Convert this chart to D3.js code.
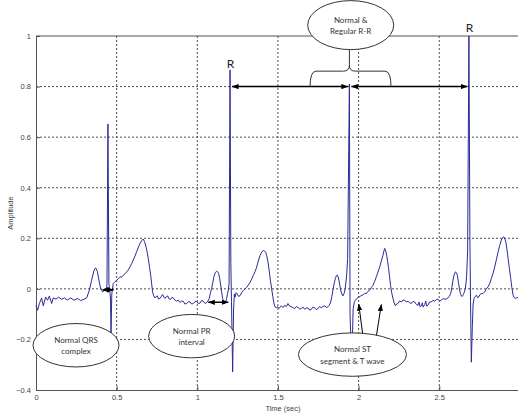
<!DOCTYPE html>
<html>
<head>
<meta charset="utf-8">
<script src="https://cdn.jsdelivr.net/npm/d3@7"></script>
<style>
  body { margin: 0; background: #fff; overflow: hidden; }
  svg { display: block; }
  .tick-label { font-family: "Liberation Sans", Arial, sans-serif; font-size: 7.5px; fill: #444; }
  .note { font-family: Lato, "Open Sans", sans-serif; font-size: 8px; fill: #333; }
</style>
</head>
<body>
<div id="chart"></div>
<script>
// ECG trace: [time (s), amplitude]
const ecgSignal = [
  [0.000,-0.065],[0.010,-0.085],[0.021,-0.058],[0.035,-0.036],[0.045,-0.067],[0.060,-0.032],[0.072,-0.045],
  [0.083,-0.028],[0.097,-0.058],[0.107,-0.036],[0.124,-0.041],[0.140,-0.033],[0.159,-0.041],[0.176,-0.036],
  [0.194,-0.044],[0.215,-0.036],[0.236,-0.045],[0.256,-0.038],[0.277,-0.046],[0.298,-0.041],[0.314,-0.036],
  [0.331,-0.005],[0.345,0.034],[0.360,0.074],[0.370,0.083],[0.380,0.070],[0.390,0.034],[0.401,0.001],
  [0.413,-0.012],[0.426,-0.005],[0.434,-0.009],[0.440,0.015],[0.446,0.652],[0.452,0.020],[0.458,-0.010],
  [0.462,-0.040],[0.465,-0.177],[0.470,-0.020],[0.479,0.021],[0.490,0.028],[0.500,0.034],[0.510,0.040],
  [0.521,0.048],[0.531,0.046],[0.541,0.054],[0.552,0.060],[0.562,0.067],[0.572,0.075],[0.583,0.087],
  [0.593,0.100],[0.603,0.114],[0.614,0.130],[0.624,0.147],[0.635,0.165],[0.645,0.180],[0.655,0.190],
  [0.665,0.197],[0.672,0.188],[0.680,0.173],[0.688,0.148],[0.696,0.120],[0.704,0.085],[0.711,0.054],
  [0.717,0.020],[0.723,-0.012],[0.730,-0.028],[0.738,-0.036],[0.745,-0.030],[0.752,-0.028],[0.760,-0.040],
  [0.769,-0.038],[0.777,-0.030],[0.785,-0.022],[0.792,-0.032],[0.800,-0.038],[0.808,-0.030],[0.816,-0.028],
  [0.825,-0.040],[0.835,-0.041],[0.843,-0.034],[0.851,-0.036],[0.862,-0.045],[0.872,-0.049],[0.882,-0.044],
  [0.893,-0.054],[0.903,-0.048],[0.913,-0.049],[0.923,-0.060],[0.934,-0.058],[0.945,-0.050],[0.955,-0.052],
  [0.965,-0.060],[0.975,-0.058],[0.986,-0.050],[0.996,-0.049],[1.006,-0.058],[1.017,-0.056],[1.027,-0.046],
  [1.037,-0.049],[1.048,-0.058],[1.058,-0.054],[1.066,-0.048],[1.074,-0.038],[1.082,-0.015],[1.089,0.001],
  [1.096,0.025],[1.103,0.048],[1.112,0.065],[1.120,0.070],[1.126,0.068],[1.132,0.061],[1.139,0.040],
  [1.145,0.015],[1.151,-0.012],[1.157,-0.038],[1.164,-0.052],[1.170,-0.058],[1.176,-0.050],[1.182,-0.038],
  [1.187,-0.020],[1.192,-0.005],[1.197,0.020],[1.203,0.866],[1.208,0.100],[1.212,-0.050],[1.219,-0.329],
  [1.225,-0.080],[1.230,-0.020],[1.234,-0.033],[1.241,-0.015],[1.248,-0.020],[1.256,-0.030],[1.265,-0.027],
  [1.275,-0.015],[1.285,-0.007],[1.296,0.000],[1.306,0.006],[1.316,0.015],[1.327,0.026],[1.337,0.038],
  [1.347,0.053],[1.358,0.068],[1.368,0.086],[1.378,0.110],[1.389,0.132],[1.399,0.145],[1.409,0.152],
  [1.418,0.149],[1.424,0.145],[1.430,0.132],[1.438,0.107],[1.447,0.066],[1.453,0.034],[1.461,0.000],
  [1.468,-0.030],[1.476,-0.060],[1.483,-0.072],[1.490,-0.075],[1.497,-0.070],[1.505,-0.078],[1.513,-0.072],
  [1.521,-0.067],[1.531,-0.074],[1.542,-0.065],[1.552,-0.070],[1.562,-0.058],[1.572,-0.068],[1.583,-0.071],
  [1.593,-0.074],[1.604,-0.078],[1.614,-0.070],[1.624,-0.073],[1.635,-0.080],[1.645,-0.078],[1.655,-0.072],
  [1.666,-0.081],[1.676,-0.076],[1.686,-0.075],[1.697,-0.084],[1.707,-0.081],[1.717,-0.072],[1.728,-0.075],
  [1.738,-0.082],[1.748,-0.078],[1.758,-0.070],[1.769,-0.075],[1.779,-0.070],[1.790,-0.067],[1.800,-0.074],
  [1.810,-0.071],[1.818,-0.065],[1.827,-0.052],[1.834,-0.030],[1.841,-0.005],[1.848,0.020],[1.856,0.041],
  [1.862,0.052],[1.868,0.054],[1.873,0.048],[1.878,0.034],[1.884,0.012],[1.889,-0.005],[1.896,-0.020],
  [1.903,-0.028],[1.910,-0.018],[1.917,0.001],[1.922,0.030],[1.926,0.054],[1.932,0.120],[1.943,0.810],
  [1.947,-0.100],[1.957,-0.320],[1.966,-0.080],[1.974,-0.050],[1.980,-0.045],[1.986,-0.040],[1.992,-0.038],
  [2.000,-0.030],[2.007,-0.032],[2.017,-0.025],[2.027,-0.025],[2.038,-0.018],[2.048,-0.019],[2.058,-0.010],
  [2.069,-0.005],[2.079,0.005],[2.089,0.014],[2.100,0.030],[2.110,0.048],[2.120,0.066],[2.131,0.087],
  [2.141,0.110],[2.151,0.133],[2.157,0.150],[2.162,0.160],[2.168,0.150],[2.174,0.133],[2.180,0.108],
  [2.186,0.081],[2.192,0.048],[2.198,0.014],[2.205,-0.015],[2.213,-0.038],[2.220,-0.055],[2.228,-0.067],
  [2.236,-0.060],[2.244,-0.058],[2.254,-0.048],[2.265,-0.052],[2.275,-0.044],[2.286,-0.045],[2.296,-0.052],
  [2.306,-0.049],[2.317,-0.055],[2.327,-0.058],[2.337,-0.050],[2.348,-0.052],[2.358,-0.062],[2.368,-0.065],
  [2.375,-0.052],[2.380,-0.070],[2.389,-0.067],[2.395,-0.055],[2.400,-0.072],[2.410,-0.062],[2.416,-0.048],
  [2.421,-0.068],[2.430,-0.065],[2.440,-0.052],[2.451,-0.052],[2.461,-0.045],[2.472,-0.049],[2.482,-0.042],
  [2.492,-0.041],[2.503,-0.048],[2.513,-0.045],[2.523,-0.038],[2.534,-0.041],[2.544,-0.040],[2.554,-0.036],
  [2.562,-0.030],[2.571,-0.019],[2.578,0.005],[2.585,0.034],[2.592,0.055],[2.600,0.067],[2.606,0.064],
  [2.612,0.054],[2.618,0.030],[2.625,0.001],[2.631,-0.018],[2.637,-0.028],[2.643,-0.030],[2.649,-0.023],
  [2.656,-0.012],[2.662,0.001],[2.667,0.030],[2.670,0.054],[2.676,0.150],[2.684,1.000],[2.690,0.200],
  [2.694,-0.050],[2.699,-0.290],[2.705,-0.150],[2.710,-0.060],[2.716,-0.038],[2.724,-0.030],[2.731,-0.025],
  [2.738,-0.035],[2.745,-0.032],[2.753,-0.022],[2.761,-0.019],[2.771,-0.018],[2.782,-0.012],[2.792,0.000],
  [2.803,0.008],[2.813,0.022],[2.823,0.041],[2.834,0.062],[2.844,0.087],[2.854,0.115],[2.865,0.147],
  [2.875,0.172],[2.885,0.193],[2.893,0.203],[2.900,0.206],[2.907,0.198],[2.913,0.185],[2.920,0.155],
  [2.927,0.119],[2.935,0.080],[2.943,0.041],[2.950,0.005],[2.958,-0.025],[2.965,-0.035],[2.973,-0.038],
  [2.982,-0.034],[2.990,-0.036],[3.000,-0.035]
];

const xTicks = [0, 0.5, 1, 1.5, 2, 2.5, 3];
const yTicks = [-0.4, -0.2, 0, 0.2, 0.4, 0.6, 0.8, 1];

// R peaks that get a label / R-R arrows
const rLabelTimes = [1.203, 2.684];
const rrPeaks = [1.203, 1.943, 2.684];
const rrLevel = 0.8;

// callout bubbles (centre in data units)
const bubbles = [
  {lines: ["Normal &", "Regular R-R"], t: 1.951, a: 1.043, rx: 43, ry: 24.5},
  {lines: ["Normal QRS", "complex"], t: 0.248, a: -0.223, rx: 43, ry: 21.7},
  {lines: ["Normal PR", "interval"], t: 0.965, a: -0.187, rx: 43, ry: 21.7},
  {lines: ["Normal ST", "segment & T wave"], t: 1.962, a: -0.26, rx: 54, ry: 21.7}
];

// small interval arrows
const spanArrows = [
  {t0: 0.413, t1: 0.480, a: -0.004},   // QRS
  {t0: 1.068, t1: 1.192, a: -0.053}    // PR
];
const pointerArrows = [
  {t0: 2.027, a0: -0.187, t1: 2.001, a1: -0.060},
  {t0: 2.110, a0: -0.187, t1: 2.141, a1: -0.062}
];

const W = 518, H = 418;
const margin = {top: 36, left: 36, bottom: 28};

const svg = d3.select("#chart").append("svg")
  .attr("width", W)
  .attr("height", H);

const x = d3.scaleLinear().domain([0, 3]).range([margin.left, margin.left + 3 * 161.3]);
const y = d3.scaleLinear().domain([-0.4, 1]).range([H - margin.bottom, margin.top]);

const defs = svg.append("defs");
defs.append("marker")
  .attr("id", "head")
  .attr("viewBox", "0 0 8 6")
  .attr("refX", 7.5).attr("refY", 3)
  .attr("markerWidth", 7).attr("markerHeight", 5.5)
  .attr("markerUnits", "userSpaceOnUse")
  .attr("orient", "auto-start-reverse")
  .append("path")
  .attr("d", "M0,0 L8,3 L0,6 Z")
  .attr("fill", "#000");

//grid (dotted, like matlab)
svg.append("g").selectAll("line.vg")
  .data(xTicks.filter(d => d > 0))
  .join("line")
  .attr("x1", d => x(d)).attr("x2", d => x(d))
  .attr("y1", y(1)).attr("y2", y(-0.4))
  .attr("stroke", "#222").attr("stroke-width", 0.8)
  .attr("stroke-dasharray", "2,2");

svg.append("g").selectAll("line.hg")
  .data(yTicks.filter(d => d > -0.4 && d < 1))
  .join("line")
  .attr("x1", x(0)).attr("x2", W)
  .attr("y1", d => y(d)).attr("y2", d => y(d))
  .attr("stroke", "#222").attr("stroke-width", 0.8)
  .attr("stroke-dasharray", "2,2");

//axes
const xAxis = svg.append("g")
  .attr("transform", "translate(0," + y(-0.4) + ")")
  .call(d3.axisBottom(x).tickValues(xTicks).tickSize(-4).tickPadding(5).tickFormat(d3.format("")));
const yAxis = svg.append("g")
  .attr("transform", "translate(" + x(0) + ",0)")
  .call(d3.axisLeft(y).tickValues(yTicks).tickSize(-4).tickPadding(5).tickFormat(d3.format("")));
[xAxis, yAxis].forEach(g => {
  g.select(".domain").attr("stroke", "#555").attr("stroke-width", 1);
  g.selectAll(".tick line").attr("stroke", "#555");
  g.selectAll(".tick text").attr("class", "tick-label").attr("font-size", null).attr("font-family", null);
});

//top frame line
svg.append("line")
  .attr("x1", x(0)).attr("x2", W)
  .attr("y1", y(1)).attr("y2", y(1))
  .attr("stroke", "#555");

//axis titles
svg.append("text")
  .attr("class", "tick-label")
  .attr("transform", "translate(13," + y(0.3) + ") rotate(-90)")
  .attr("text-anchor", "middle")
  .text("Amplitude");
svg.append("text")
  .attr("class", "tick-label")
  .attr("x", x(1.5) + 5).attr("y", 411)
  .attr("text-anchor", "middle")
  .text("Time (sec)");

//ECG line
const line = d3.line().x(d => x(d[0])).y(d => y(d[1]));
svg.append("path")
  .datum(ecgSignal)
  .attr("d", line)
  .attr("fill", "none")
  .attr("stroke", "#2a2a96")
  .attr("stroke-width", 1)
  .attr("stroke-linejoin", "round");

//R-R arrows
for (let i = 0; i < rrPeaks.length - 1; i++) {
  svg.append("line")
    .attr("x1", x(rrPeaks[i]) + 2).attr("x2", x(rrPeaks[i + 1]) - 1.5)
    .attr("y1", y(rrLevel)).attr("y2", y(rrLevel))
    .attr("stroke", "#000").attr("stroke-width", 1.5)
    .attr("marker-start", "url(#head)")
    .attr("marker-end", "url(#head)");
}

//curly brace over the middle R
const bx0 = x(1.699), bx1 = x(2.201), bm = x(rrPeaks[1]);
const bBot = y(0.798), bMid = y(0.861), bTip = y(0.945);
svg.append("path")
  .attr("d", `M${bx0},${bBot} Q${bx0},${bMid} ${bx0 + 6},${bMid} L${bm - 6},${bMid} Q${bm},${bMid} ${bm},${bMid - 6}
              L${bm},${bTip} M${bm},${bMid - 6} Q${bm},${bMid} ${bm + 6},${bMid} L${bx1 - 6},${bMid}
              Q${bx1},${bMid} ${bx1},${bBot}`)
  .attr("fill", "none")
  .attr("stroke", "#333")
  .attr("stroke-width", 1);

//R labels
svg.selectAll("text.rlab")
  .data(rLabelTimes)
  .join("text")
  .attr("class", "rlab")
  .attr("x", d => x(d) + 0.5)
  .attr("y", (d, i) => i === 0 ? 68 : 32)
  .attr("text-anchor", "middle")
  .attr("font-family", "Lato, sans-serif")
  .attr("font-size", 12)
  .attr("fill", "#222")
  .text("R");

//interval arrows
spanArrows.forEach(s => {
  svg.append("line")
    .attr("x1", x(s.t0)).attr("x2", x(s.t1))
    .attr("y1", y(s.a)).attr("y2", y(s.a))
    .attr("stroke", "#000").attr("stroke-width", 1.5)
    .attr("marker-start", "url(#head)")
    .attr("marker-end", "url(#head)");
});
pointerArrows.forEach(p => {
  svg.append("line")
    .attr("x1", x(p.t0)).attr("x2", x(p.t1))
    .attr("y1", y(p.a0)).attr("y2", y(p.a1))
    .attr("stroke", "#000").attr("stroke-width", 1)
    .attr("marker-end", "url(#head)");
});

//callout ellipses
const bub = svg.selectAll("g.bubble")
  .data(bubbles)
  .join("g")
  .attr("class", "bubble")
  .attr("transform", d => "translate(" + x(d.t) + "," + y(d.a) + ")");
bub.append("ellipse")
  .attr("rx", d => d.rx).attr("ry", d => d.ry)
  .attr("fill", "#fff")
  .attr("stroke", "#333")
  .attr("stroke-width", 1);
bub.selectAll("text")
  .data(d => d.lines.map((l, i) => ({l, i})))
  .join("text")
  .attr("class", "note")
  .attr("text-anchor", "middle")
  .attr("y", d => d.i === 0 ? -2.5 : 9)
  .text(d => d.l);
</script>
</body>
</html>
